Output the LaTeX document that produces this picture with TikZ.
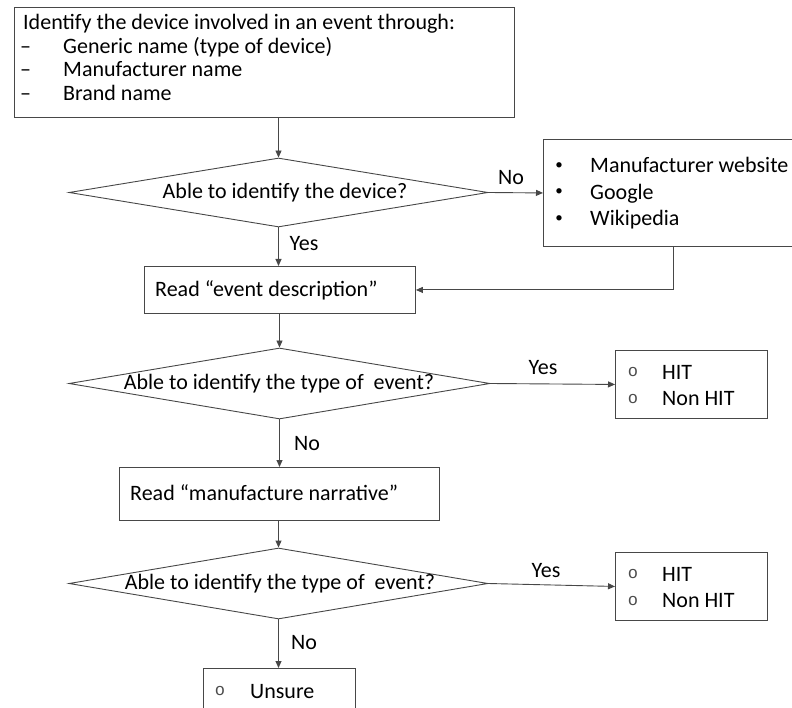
\documentclass[tikz,border=0pt]{standalone}
\usepackage{fontspec}
\setmainfont{Carlito}
\newfontfamily\monofont{Liberation Mono}
\usetikzlibrary{shapes.geometric,arrows.meta}

\tikzset{
  edge/.style={draw=black!72, line width=0.9pt},
  boxnode/.style={rectangle, draw=black!72, line width=0.9pt, inner sep=0pt, anchor=north west},
  dianode/.style={diamond, draw=black!72, line width=0.9pt, inner sep=0pt},
  txt/.style={font=\fontsize{22}{26}\selectfont, inner sep=0pt, anchor=base west, text=black},
  ctxt/.style={font=\fontsize{22}{26}\selectfont, inner sep=0pt, text=black},
  lbl/.style={font=\fontsize{22}{26}\selectfont, inner sep=0pt, text=black},
  dot/.style={font=\fontsize{15}{18}\selectfont, inner sep=0pt, text=black},
  ring/.style={font=\monofont\fontsize{17}{19}\selectfont, inner sep=0pt, text=black!70},
  flow/.style={edge, -{Triangle[length=7pt,width=6pt]}},
}

\begin{document}
\begin{tikzpicture}[x=1pt,y=-1pt]
\useasboundingbox (0,0) rectangle (792,708);

% top box: how the device is identified
\node[boxnode, minimum width=500pt, minimum height=110pt] (top) at (14,7) {};
\node[txt] (t0) at (23,30) {Identify the device involved in an event through:};
\node[txt] (t1d) at (20,53.5) {–};
\node[txt] (t1) at (63,53.5) {Generic name (type of device)};
\node[txt] (t2d) at (20,77) {–};
\node[txt] (t2) at (63,77) {Manufacturer name};
\node[txt] (t3d) at (20,100.5) {–};
\node[txt] (t3) at (63,100.5) {Brand name};

% first decision
\node[dianode, minimum width=419pt, minimum height=69pt] (d1) at (278.5,192.5) {};
\node[ctxt] (d1t) at (285,193) {Able to identify the device?};

% lookup sources
\node[boxnode, minimum width=260pt, minimum height=107pt] (web) at (543,139) {};
\node[dot] (w1b) at (559,166) {•};
\node[txt] (w1) at (590,173) {Manufacturer website};
\node[dot] (w2b) at (559,192.5) {•};
\node[txt] (w2) at (590,199.5) {Google};
\node[dot] (w3b) at (559,219) {•};
\node[txt] (w3) at (590,226) {Wikipedia};

% read event description
\node[boxnode, minimum width=271pt, minimum height=47pt] (ev) at (144,266) {};
\node[txt] (evt) at (155,297) {Read “event description”};

% second decision
\node[dianode, minimum width=421pt, minimum height=71pt] (d2) at (279.5,383.5) {};
\node[ctxt] (d2t) at (279,384) {Able to identify the type of\ \ event?};

\node[boxnode, minimum width=152pt, minimum height=68pt] (hit1) at (615,350) {};
\node[ring] (h1a) at (633,372) {o};
\node[txt] (h1at) at (662,379) {HIT};
\node[ring] (h1b) at (633,399) {o};
\node[txt] (h1bt) at (662,405) {Non HIT};

% read manufacturer narrative
\node[boxnode, minimum width=320pt, minimum height=53pt] (man) at (119,467) {};
\node[txt] (mant) at (130,500) {Read “manufacture narrative”};

% third decision
\node[dianode, minimum width=419pt, minimum height=71pt] (d3) at (278.5,583.5) {};
\node[ctxt] (d3t) at (280,584) {Able to identify the type of\ \ event?};

\node[boxnode, minimum width=152pt, minimum height=68pt] (hit2) at (615,552) {};
\node[ring] (h2a) at (633,574) {o};
\node[txt] (h2at) at (662,581) {HIT};
\node[ring] (h2b) at (633,601) {o};
\node[txt] (h2bt) at (662,607) {Non HIT};

% final outcome
\node[boxnode, minimum width=152pt, minimum height=47pt] (uns) at (203,668) {};
\node[ring] (ua) at (220,691) {o};
\node[txt] (uat) at (250,698) {Unsure};

% connectors
\draw[flow] (top.south -| d1.north) -- (d1.north);
\draw[flow] (d1.east) -- (web.west);
\draw[flow] (d1.south) -- (ev.north -| d1.south);
\draw[flow] (web.south) |- (ev.east);
\draw[flow] (ev.south -| d2.north) -- (d2.north);
\draw[flow] (d2.east) -- (hit1.west);
\draw[flow] (d2.south) -- (man.north -| d2.south);
\draw[flow] (man.south -| d3.north) -- (d3.north);
\draw[flow] (d3.east) -- (hit2.west);
\draw[flow] (d3.south) -- (uns.north -| d3.south);

% branch labels
\node[lbl] (l1) at (511,178) {No};
\node[lbl] (l2) at (304,244) {Yes};
\node[lbl] (l3) at (543,368) {Yes};
\node[lbl] (l4) at (307,444) {No};
\node[lbl] (l5) at (546,571) {Yes};
\node[lbl] (l6) at (304,643) {No};
\end{tikzpicture}
\end{document}
